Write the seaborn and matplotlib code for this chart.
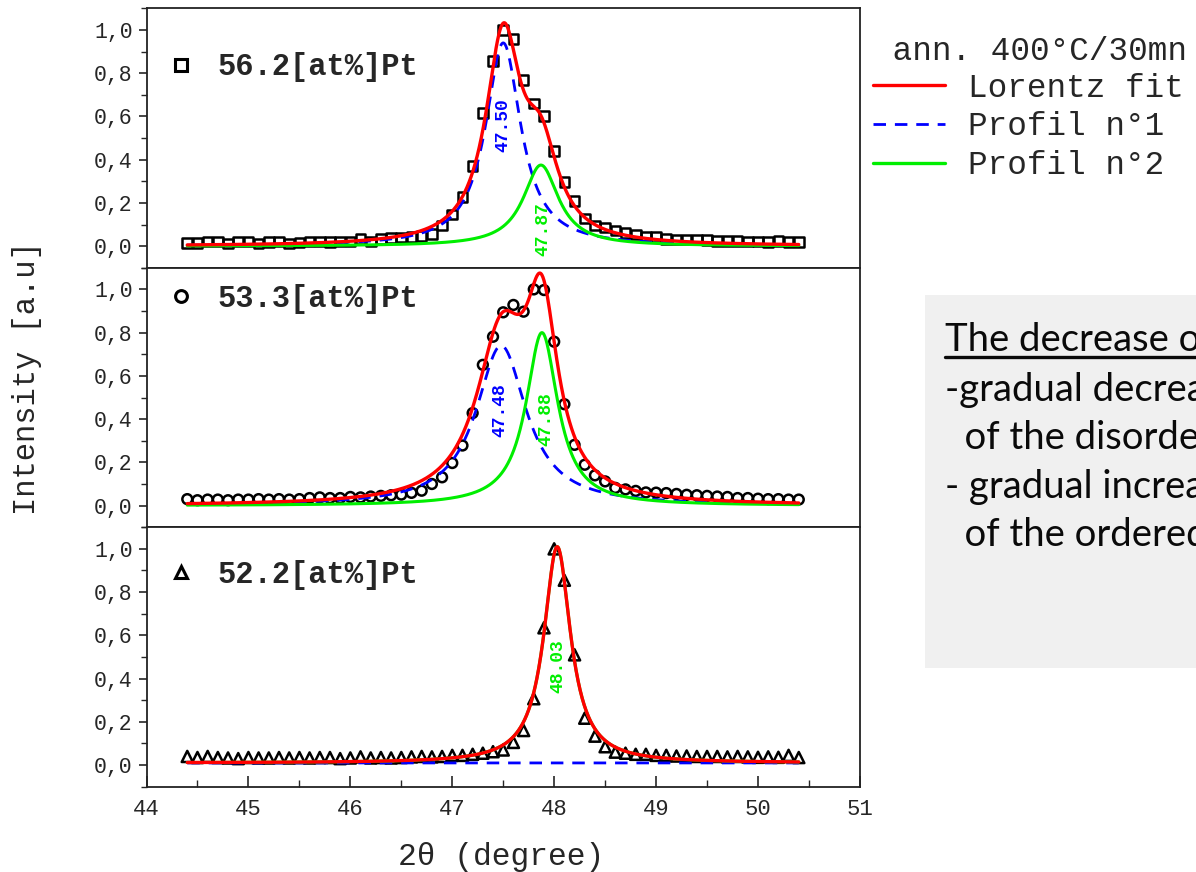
import numpy as np
import pandas as pd
import matplotlib
matplotlib.use("Agg")
import matplotlib.pyplot as plt
import seaborn as sns
from matplotlib.lines import Line2D
from matplotlib.patches import Rectangle
from matplotlib.ticker import MultipleLocator

# --- measured diffractograms (normalised intensity vs 2theta) -------------
two_theta = [44.4, 44.5, 44.6, 44.7, 44.8, 44.9,
             45.0, 45.1, 45.2, 45.3, 45.4, 45.5, 45.6, 45.7, 45.8, 45.9,
             46.0, 46.1, 46.2, 46.3, 46.4, 46.5, 46.6, 46.7, 46.8, 46.9,
             47.0, 47.1, 47.2, 47.3, 47.4, 47.5, 47.6, 47.7, 47.8, 47.9,
             48.0, 48.1, 48.2, 48.3, 48.4, 48.5, 48.6, 48.7, 48.8, 48.9,
             49.0, 49.1, 49.2, 49.3, 49.4, 49.5, 49.6, 49.7, 49.8, 49.9,
             50.0, 50.1, 50.2, 50.3, 50.4]

int_pt562 = [0.015, 0.015, 0.022, 0.022, 0.012, 0.022,
             0.022, 0.012, 0.018, 0.022, 0.012, 0.016, 0.022, 0.022, 0.020, 0.022,
             0.022, 0.032, 0.022, 0.034, 0.038, 0.040, 0.043, 0.046, 0.057, 0.096,
             0.146, 0.226, 0.371, 0.615, 0.856, 1.000, 0.957, 0.767, 0.660, 0.601,
             0.439, 0.297, 0.210, 0.127, 0.096, 0.087, 0.073, 0.060, 0.054, 0.045,
             0.042, 0.034, 0.030, 0.030, 0.030, 0.028, 0.025, 0.025, 0.025, 0.022,
             0.022, 0.020, 0.025, 0.018, 0.018]

int_pt533 = [0.030, 0.025, 0.028, 0.028, 0.025, 0.028,
             0.028, 0.030, 0.028, 0.030, 0.028, 0.030, 0.035, 0.038, 0.035, 0.035,
             0.040, 0.038, 0.042, 0.045, 0.048, 0.051, 0.059, 0.069, 0.100, 0.131,
             0.197, 0.278, 0.428, 0.651, 0.781, 0.894, 0.928, 0.897, 1.000, 0.997,
             0.758, 0.469, 0.281, 0.189, 0.140, 0.112, 0.082, 0.075, 0.068, 0.061,
             0.060, 0.058, 0.054, 0.050, 0.048, 0.045, 0.042, 0.040, 0.035, 0.035,
             0.032, 0.030, 0.030, 0.028, 0.028]

int_pt522 = [0.040, 0.035, 0.040, 0.035, 0.033, 0.030,
             0.035, 0.033, 0.033, 0.035, 0.033, 0.035, 0.033, 0.035, 0.035, 0.030,
             0.033, 0.038, 0.033, 0.035, 0.033, 0.035, 0.038, 0.040, 0.038, 0.040,
             0.045, 0.045, 0.050, 0.055, 0.062, 0.070, 0.105, 0.160, 0.307, 0.635,
             1.000, 0.855, 0.510, 0.217, 0.134, 0.085, 0.060, 0.055, 0.050, 0.050,
             0.045, 0.045, 0.042, 0.042, 0.040, 0.040, 0.040, 0.038, 0.040, 0.038,
             0.036, 0.038, 0.036, 0.045, 0.035]

sample_labels = ["56.2[at%]Pt", "53.3[at%]Pt", "52.2[at%]Pt"]
sample_markers = ["s", "o", "^"]
marker_area = [48, 50, 64]

# --- Lorentz decomposition: background, then (centre, height, HWHM) -------
fit_background = [0.0, 0.0, 0.01]
profile1 = [(47.50, 0.94, 0.21), (47.48, 0.74, 0.30), (48.03, 0.0, 0.30)]
profile2 = [(47.87, 0.375, 0.21), (47.88, 0.80, 0.19), (48.03, 1.00, 0.16)]
show_p1_label = [True, True, False]

# peak-position annotations: (x offset, y) in data units
p1_label_pos = [(0.00, 0.56), (-0.01, 0.44), (0.0, 0.0)]
p2_label_pos = [(0.02, 0.08), (0.04, 0.40), (0.01, 0.46)]
# vertical placement of the composition keys (axes fraction)
key_y = [0.772, 0.88, 0.816]

ytick_values = [0.0, 0.2, 0.4, 0.6, 0.8, 1.0]
ytick_labels = ["0,0", "0,2", "0,4", "0,6", "0,8", "1,0"]
xtick_values = [44, 45, 46, 47, 48, 49, 50, 51]

legend_title = " ann. 400°C/30mn"
legend_labels = ["Lorentz fit", "Profil n°1", "Profil n°2"]
note_lines = ["The decrease of", "-gradual decrease", "  of the disordered",
              "- gradual increase", "  of the ordered"]

RED, BLUE, GREEN = "#ff0000", "#0000ff", "#00ee00"


def lorentz(x, centre, height, hwhm):
    return height * hwhm ** 2 / ((x - centre) ** 2 + hwhm ** 2)


sns.set_style("ticks")
plt.rcParams["font.family"] = ["Liberation Mono", "DejaVu Sans Mono"]
plt.rcParams["axes.edgecolor"] = "#222222"
plt.rcParams["axes.linewidth"] = 1.3

fig = plt.figure(figsize=(11.96, 8.72), dpi=100)
axes = fig.subplots(3, 1, sharex=True, gridspec_kw=dict(hspace=0))
fig.subplots_adjust(left=0.1225, right=0.719, top=0.9905, bottom=0.0978)

grid = np.linspace(44.4, 50.4, 1201)
series = [int_pt562, int_pt533, int_pt522]

for i, ax in enumerate(axes):
    df = pd.DataFrame({"two_theta": two_theta, "intensity": series[i]})
    p1 = lorentz(grid, *profile1[i])
    p2 = lorentz(grid, *profile2[i])
    bg = fit_background[i]
    fits = pd.DataFrame({"two_theta": grid, "p1": bg + p1, "p2": bg + p2,
                         "total": bg + p1 + p2})

    sns.scatterplot(data=df, x="two_theta", y="intensity", ax=ax,
                    marker=sample_markers[i], s=marker_area[i],
                    facecolor="none", edgecolor="black", linewidth=1.8,
                    zorder=2)
    sns.lineplot(data=fits, x="two_theta", y="p1", ax=ax, color=BLUE,
                 lw=2.0, dashes=(4.5, 3.2), estimator=None, zorder=3)
    sns.lineplot(data=fits, x="two_theta", y="p2", ax=ax, color=GREEN,
                 lw=2.2, estimator=None, zorder=4)
    sns.lineplot(data=fits, x="two_theta", y="total", ax=ax, color=RED,
                 lw=2.4, estimator=None, zorder=5)

    if show_p1_label[i]:
        dx, yy = p1_label_pos[i]
        ax.text(profile1[i][0] + dx, yy, f"{profile1[i][0]:.2f}", color=BLUE,
                rotation=90, ha="center", va="center", fontsize=13,
                fontweight="bold")
    dx, yy = p2_label_pos[i]
    ax.text(profile2[i][0] + dx, yy, f"{profile2[i][0]:.2f}", color=GREEN,
            rotation=90, ha="center", va="center", fontsize=13,
            fontweight="bold")

    # sample composition key
    key = Line2D([], [], ls="none", marker=sample_markers[i], ms=8.5,
                 mfc="none", mec="black", mew=2.2)
    ax.legend([key], [sample_labels[i]], loc="center left", frameon=False,
              bbox_to_anchor=(0.027, key_y[i]), borderaxespad=0, borderpad=0,
              handlelength=1.0, handletextpad=0.68,
              prop=dict(family="Liberation Mono", weight="bold", size=22))

    ax.set_xlim(44, 51)
    ax.set_ylim(-0.1, 1.1)
    ax.set_yticks(ytick_values, labels=ytick_labels)
    ax.yaxis.set_minor_locator(MultipleLocator(0.1))
    ax.tick_params(axis="y", which="major", direction="out", length=6,
                   width=1.2, labelsize=15.5, pad=4)
    ax.tick_params(axis="y", which="minor", direction="out", length=4,
                   width=1.0)
    ax.set_xlabel("")
    ax.set_ylabel("")
    for side in ax.spines.values():
        side.set_visible(True)
    if i < 2:
        ax.tick_params(axis="x", which="both", bottom=False, labelbottom=False)

bottom = axes[2]
bottom.set_xticks(xtick_values)
bottom.xaxis.set_minor_locator(MultipleLocator(0.5))
bottom.tick_params(axis="x", which="major", direction="in", length=8,
                   width=1.2, labelsize=16, pad=9)
bottom.tick_params(axis="x", which="minor", direction="in", length=5,
                   width=1.0)

fig.text(27 / 1196, 1 - 378 / 872, "Intensity [a.u]", rotation=90,
         ha="center", va="center", fontsize=22)
fig.text(501 / 1196, 1 - 857 / 872, "2θ (degree)", ha="center",
         va="center", fontsize=22.5)

# fit legend
proxy = [Line2D([], [], color=RED, lw=2.4),
         Line2D([], [], color=BLUE, lw=2.0, ls=(0, (4.5, 3.2))),
         Line2D([], [], color=GREEN, lw=2.4)]
leg = fig.legend(proxy, legend_labels, title=legend_title, loc="upper left",
                 bbox_to_anchor=(873 / 1196, 1 - 36 / 872), frameon=False,
                 borderpad=0, borderaxespad=0, handlelength=2.2,
                 handletextpad=0.7, labelspacing=0.24, alignment="left",
                 prop=dict(family="Liberation Mono", size=23.5),
                 title_fontproperties=dict(family="Liberation Mono",
                                           size=23.5))
leg._legend_box.sep = 4

# conclusions panel
fig.patches.append(Rectangle((925 / 1196, 1 - 668 / 872), 0.3,
                             (668 - 295) / 872, transform=fig.transFigure,
                             facecolor="#f0f0f0", edgecolor="none", zorder=0))
note_y = [340, 390, 438, 487, 535]
note_artists = []
for txt, y in zip(note_lines, note_y):
    note_artists.append(fig.text(945 / 1196, 1 - y / 872, txt,
                                 family=["Lato", "DejaVu Sans"], fontsize=27.5,
                                 ha="left", va="center", color="#0a0a0a"))

fig.canvas.draw()
r = fig.canvas.get_renderer()
bb = note_artists[0].get_window_extent(r).transformed(fig.transFigure.inverted())
fig.add_artist(Line2D([bb.x0, bb.x1], [bb.y0 + 0.001, bb.y0 + 0.001],
                      transform=fig.transFigure, color="#0a0a0a", lw=2.4))

fig.savefig("out.png", dpi=100)
